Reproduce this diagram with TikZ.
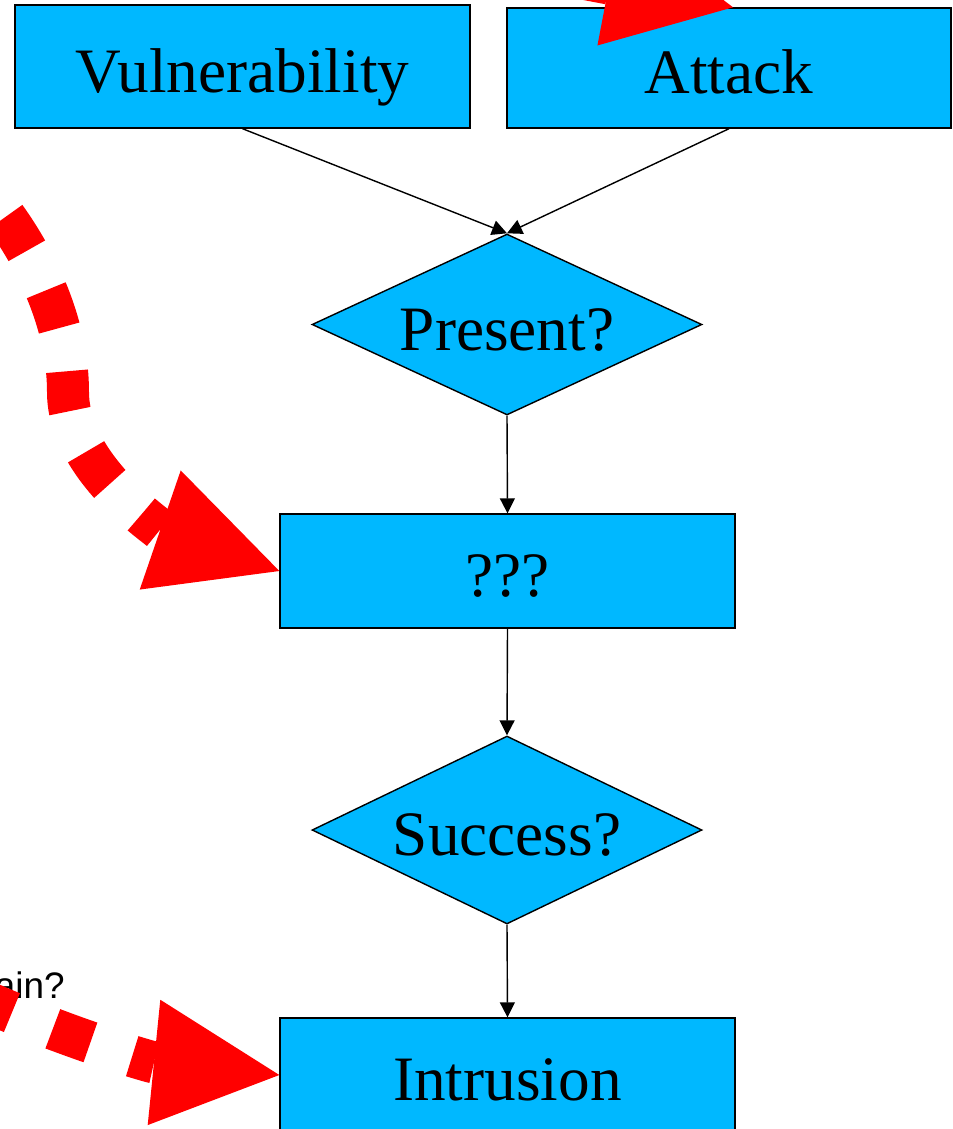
\documentclass[tikz,border=0pt]{standalone}
\usepackage{fontspec}
\setmainfont{Liberation Serif}
\newfontfamily\labelsans{Liberation Sans}
\usepackage{tikz}
\usetikzlibrary{arrows,shapes}
\usetikzlibrary{shapes.geometric}
\usetikzlibrary{arrows.meta}
\usetikzlibrary{calc}
\definecolor{boxblue}{RGB}{0,184,255}

\begin{document}
\begin{tikzpicture}[x=0.02cm, y=-0.02cm,
  stepbox/.style={draw, fill=boxblue, line width=0.8pt, inner sep=0pt,
    text height=29.5pt, text depth=0pt, font=\fontsize{36}{40}\selectfont},
  decision/.style={diamond, draw, fill=boxblue, line width=0.8pt, inner sep=0pt,
    text height=29.5pt, text depth=0pt,
    aspect=2.15, minimum width=7.8cm, font=\fontsize{36}{40}\selectfont},
  flow/.style={line width=0.8pt, -{Triangle[length=0.3cm,width=0.3cm]}},
  redarrow/.style={red, line width=0.84cm, dash pattern=on 0.8cm off 0.88cm,
    -{Triangle[length=2.52cm,width=2.52cm,line width=0pt]}}]

  \useasboundingbox (0,0) rectangle (953,1129);
  \clip (0,0) rectangle (953,1129);

  % Nodes
  \node[stepbox, minimum width=9.1cm, minimum height=2.46cm] (vul) at (242.5,66.5) {Vulnerability};
  \node[stepbox, minimum width=8.88cm, minimum height=2.4cm] (att) at (729,68) {Attack};
  \node[decision, minimum height=3.62cm] (present) at (507,324.5) {Present?};
  \node[stepbox, minimum width=9.1cm, minimum height=2.28cm] (tmp) at (507.5,571) {???};
  \node[decision, minimum height=3.76cm] (success) at (507,830) {Success?};
  \node[stepbox, minimum width=9.1cm, minimum height=2.28cm] (intr) at (507.5,1075) {Intrusion};
  \node[anchor=base east, inner sep=0pt, font=\labelsans\fontsize{21}{25}\selectfont] (again) at (65,998) {again?};

  % Edges
  \draw[flow] (vul.south) -- (present.north);
  \draw[flow] (att.south) -- (present.north);
  \draw[flow] (present.south) -- (tmp.north);
  \draw[flow] (tmp.south) -- (success.north);
  \draw[flow] (success.south) -- (intr.north);

  % Red arrows
  \coordinate (atkfrom) at (580,-22);
  \coordinate (loopfrom) at (-30,175);
  \coordinate (againfrom) at (-60,980);
  \draw[redarrow] (atkfrom) -- ($(att.north)+(4,0)$);
  \draw[redarrow, dash phase=0.58cm] (loopfrom) .. controls (10,215) and (68,300) .. (68,392)
    .. controls (68,470) and (166,532) .. (tmp.west);
  \draw[redarrow, dash phase=0.9cm] (againfrom) .. controls (40,1030) and (150,1062) .. (intr.west);

\end{tikzpicture}
\end{document}
